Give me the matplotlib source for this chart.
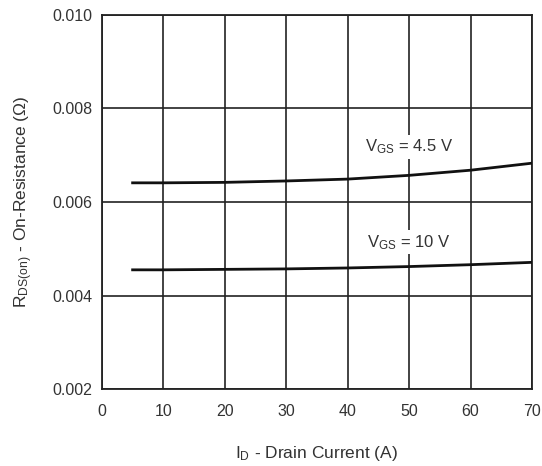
import matplotlib
matplotlib.use('Agg')
import matplotlib.pyplot as plt
import numpy as np

plt.rcParams['font.family'] = ['Liberation Sans', 'DejaVu Sans']
plt.rcParams['mathtext.fontset'] = 'custom'
plt.rcParams['mathtext.rm'] = 'Liberation Sans'
plt.rcParams['mathtext.it'] = 'Liberation Sans'

# drain current (A)
i_d = [5, 10, 20, 30, 40, 50, 60, 70]
# on-resistance (ohm)
r_45v = [0.00641, 0.00641, 0.00642, 0.00645, 0.00649, 0.00657, 0.00668, 0.00683]
r_10v = [0.00455, 0.00455, 0.00456, 0.00457, 0.00459, 0.00462, 0.00466, 0.00471]
x_ticks = [0, 10, 20, 30, 40, 50, 60, 70]
y_ticks = [0.002, 0.004, 0.006, 0.008, 0.010]

txt = '#333333'

fig = plt.figure(figsize=(5.42, 4.66), dpi=100)
ax = fig.add_axes([0.188, 0.165, 0.7935, 0.803])

ax.plot(i_d, r_45v, color='#111111', lw=2.0, zorder=3)
ax.plot(i_d, r_10v, color='#111111', lw=2.0, zorder=3)

ax.set_xlim(0, 70)
ax.set_ylim(0.002, 0.010)
ax.set_xticks(x_ticks)
ax.set_yticks(y_ticks)
ax.set_yticklabels(['%.3f' % v for v in y_ticks])
ax.grid(True, color='#222222', lw=1.2)
ax.tick_params(length=0, labelsize=11.5, colors=txt)
ax.tick_params(axis='x', pad=11)
ax.tick_params(axis='y', pad=7)
for s in ax.spines.values():
    s.set_color('#222222')
    s.set_linewidth(1.3)

box = dict(facecolor='white', edgecolor='none', pad=2)
ax.text(50, 0.00718, r'V$_{\mathregular{GS}}$ = 4.5 V', ha='center', va='center',
        fontsize=12, color=txt, bbox=box, zorder=4)
ax.text(50, 0.00514, r'V$_{\mathregular{GS}}$ = 10 V', ha='center', va='center',
        fontsize=12, color=txt, bbox=box, zorder=4)

ax.set_xlabel(r'I$_{\mathregular{D}}$ - Drain Current (A)', fontsize=12.5, color=txt, labelpad=18)
ax.set_ylabel(r'R$_{\mathregular{DS(on)}}$ - On-Resistance ($\Omega$)', fontsize=12.5, color=txt, labelpad=12)

fig.savefig('out.png', dpi=100)
